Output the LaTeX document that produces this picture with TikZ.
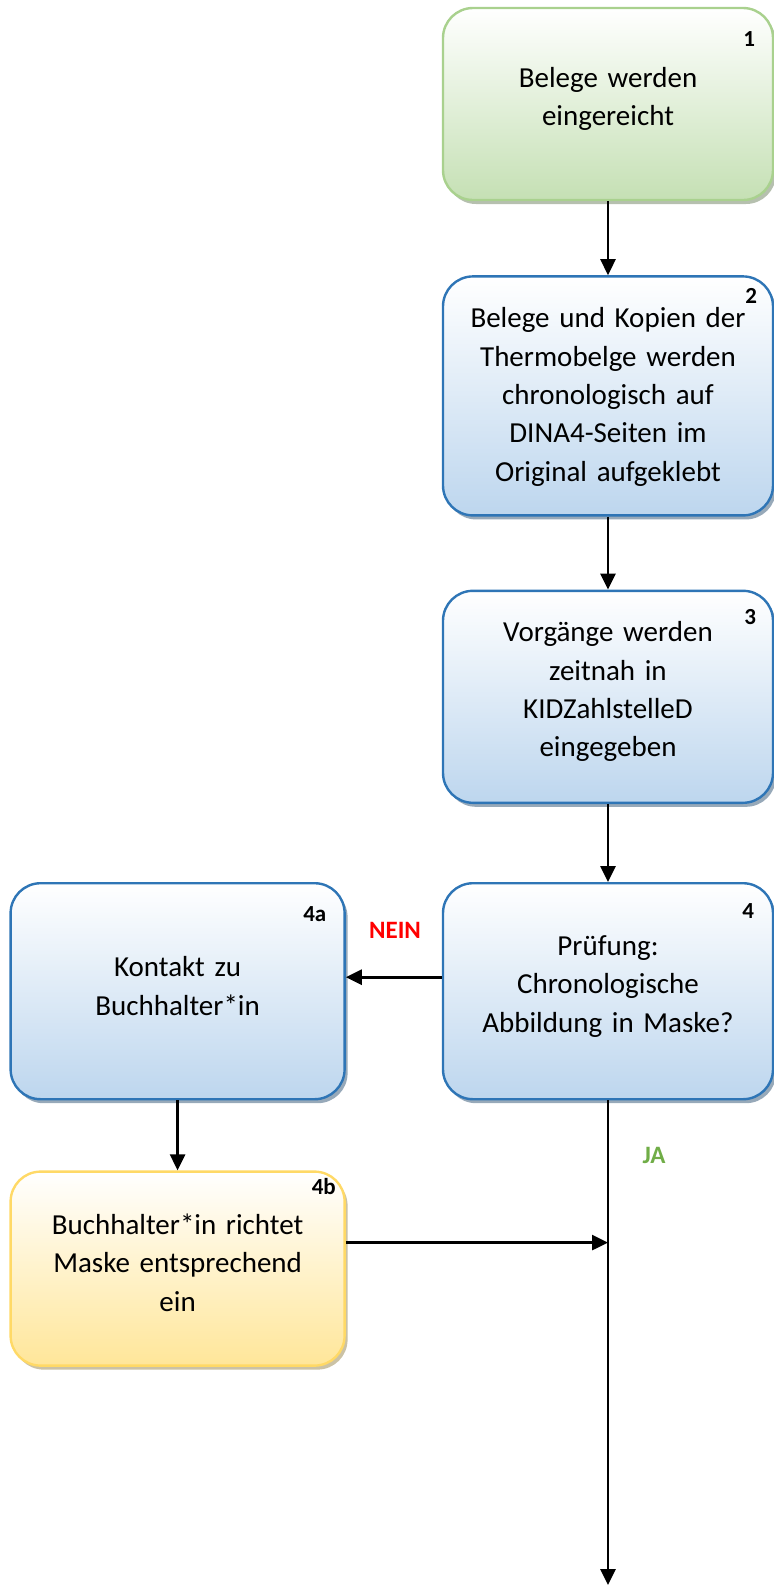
\documentclass[tikz,border=0pt]{standalone}
\usepackage{fontspec}
\setmainfont{Carlito}[WordSpace=0.9]
\usepackage{xcolor}
\usepackage{tikz}
\usetikzlibrary{positioning, shadows}
\usetikzlibrary{arrows.meta}
\tikzset{>={Triangle[width=7.5pt,length=8pt]}}
\definecolor{blueD}{RGB}{46,117,182}
\definecolor{blueF}{RGB}{189,214,238}
\definecolor{greenD}{RGB}{169,209,142}
\definecolor{greenF}{RGB}{197,224,180}
\definecolor{yellowD}{RGB}{255,217,102}
\definecolor{yellowF}{RGB}{255,230,153}
\definecolor{jagreen}{RGB}{112,173,71}

\begin{document}
\begin{tikzpicture}[x=0.5pt, y=-0.5pt, line width=1.3pt,
    box/.style={rectangle, rounded corners=15pt, line width=1.2pt, minimum width=165pt, draw=#1D, top color=white, bottom color=#1F, drop shadow={shadow xshift=1.5pt, shadow yshift=-2pt, fill=#1D!55!black, opacity=0.45}},
    txt/.style={draw=none, fill=none, text width=162pt, align=center, font=\fontsize{14.5}{19.2}\selectfont},
    num/.style={draw=none, fill=none, inner sep=0pt, font=\fontsize{11.5}{13}\selectfont\bfseries},
    answer/.style={draw=none, fill=none, inner sep=0pt, font=\fontsize{12.5}{14}\selectfont\bfseries}]
    \useasboundingbox (0,0) rectangle (774,1587);

    %Nodes
    \node[box=green, minimum height=96pt](b1) at (608,104){};
    \node[box=blue, minimum height=119.5pt](b2)[below=37pt of b1]{};
    \node[box=blue, minimum height=106pt](b3)[below=36.5pt of b2]{};
    \node[box=blue, minimum height=108pt](b4)[below=39pt of b3]{};
    \node[box=blue, minimum height=108pt, minimum width=167pt](b4a)[left=48pt of b4]{};
    \node[box=yellow, minimum height=97pt, minimum width=167pt](b4b)[below=35pt of b4a]{};

    \node[txt](t1) at ([yshift=2.5pt]b1){Belege werden\\ eingereicht};
    \node[txt](t2) at ([yshift=-0.5pt]b2){Belege und Kopien der\\ Thermobelge werden\\ chronologisch auf\\ DINA4-Seiten im\\ Original aufgeklebt};
    \node[txt](t3) at ([yshift=2.5pt]b3){Vorgänge werden\\ zeitnah in\\ KIDZahlstelleD\\ eingegeben};
    \node[txt](t4) at ([yshift=2.5pt]b4){Prüfung:\\ Chronologische\\ Abbildung in Maske?};
    \node[txt](t4a) at ([yshift=2.5pt]b4a){Kontakt zu\\ Buchhalter*in};
    \node[txt](t4b) at ([yshift=3pt]b4b){Buchhalter*in richtet\\ Maske entsprechend\\ ein};

    \node[num](n1) at ([xshift=-12.5pt,yshift=-16pt]b1.north east){1};
    \node[num](n2) at ([xshift=-11.5pt,yshift=-10.5pt]b2.north east){2};
    \node[num](n3) at ([xshift=-12pt,yshift=-13.5pt]b3.north east){3};
    \node[num](n4) at ([xshift=-13pt,yshift=-14.5pt]b4.north east){4};
    \node[num](n4a) at ([xshift=-15.5pt,yshift=-16pt]b4a.north east){4a};
    \node[num](n4b) at ([xshift=-11pt,yshift=-8pt]b4b.north east){4b};

    \node[answer, text=red](nein) at (395,930){NEIN};
    \node[answer, text=jagreen](ja) at (654,1155){JA};

    \coordinate (tap) at ([yshift=13pt]b4b.east);
    \coordinate (join) at (tap -| b4.south);
    \coordinate (out) at (608,1585);

    %Lines
    \draw[->] (b1.south) -- (b2.north);
    \draw[->] (b2.south) -- (b3.north);
    \draw[->] (b3.south) -- (b4.north);
    \draw[->] ([yshift=7pt]b4.west) -- ([yshift=7pt]b4a.east);
    \draw[->] (b4a.south) -- (b4b.north);
    \draw[->] (tap) -- (join);
    \draw[->] (b4.south) -- (out);

\end{tikzpicture}
\end{document}
